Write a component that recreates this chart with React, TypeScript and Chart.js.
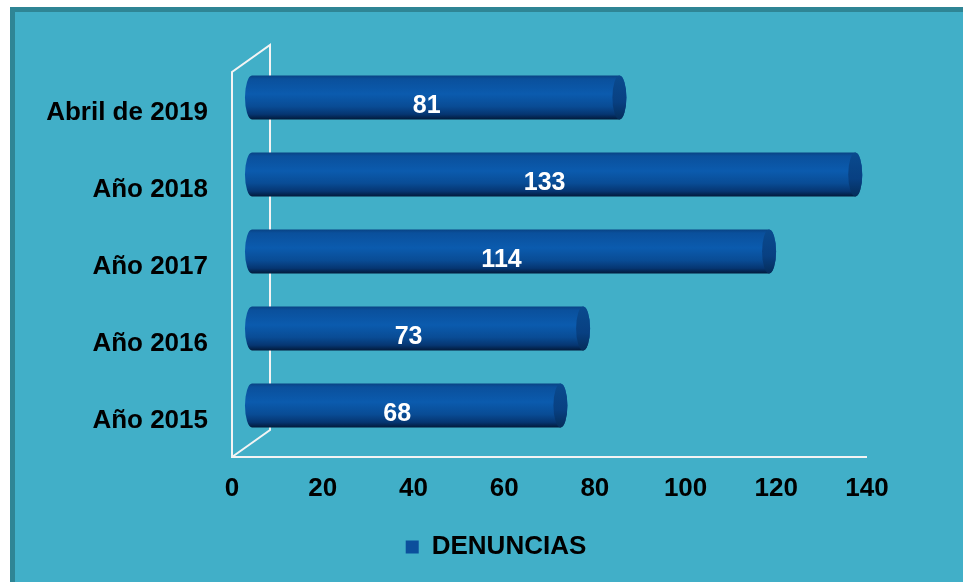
import { useEffect, useRef } from "react";
import { Chart, registerables } from "chart.js";

Chart.register(...registerables);

const categories = ["Abril de 2019", "Año 2018", "Año 2017", "Año 2016", "Año 2015"];
const denuncias = [81, 133, 114, 73, 68];
const seriesLabel = "DENUNCIAS";
const xMin = 0;
const xMax = 140;
const xStep = 20;

const FONT = "'Liberation Sans', Arial, Helvetica, sans-serif";
const DEPTH_X = 38;
const DEPTH_Y = 27;
const BAR_DX = 20;
const BAR_DY = -13;

const scenePlugin = {
  id: "scene3d",
  afterLayout(chart: any) {
    // let the category labels extend left of the (narrow) y-axis box without clipping
    if (chart.scales.y) chart.scales.y.left = 15;
  },
  beforeDraw(chart: any) {
    const { ctx, width, height } = chart;
    ctx.save();
    ctx.fillStyle = "#ffffff";
    ctx.fillRect(0, 0, width, height);
    ctx.fillStyle = "#2F8595";
    ctx.fillRect(10, 7, width - 10, height - 7);
    ctx.fillStyle = "#41AFC8";
    ctx.fillRect(15, 12, width - 15, height - 12);
    ctx.restore();
  },
  beforeDatasetsDraw(chart: any) {
    const { ctx, chartArea } = chart;
    const { left, right, top, bottom } = chartArea;
    ctx.save();
    ctx.strokeStyle = "#F4F4F4";
    ctx.lineWidth = 2;
    ctx.lineJoin = "miter";
    ctx.beginPath();
    ctx.moveTo(right, bottom);
    ctx.lineTo(left, bottom);
    ctx.lineTo(left, top);
    ctx.lineTo(left + DEPTH_X, top - DEPTH_Y);
    ctx.lineTo(left + DEPTH_X, bottom - DEPTH_Y);
    ctx.lineTo(left, bottom);
    ctx.stroke();

    const meta = chart.getDatasetMeta(0);
    meta.data.forEach((bar: any) => {
      const p = bar.getProps(["x", "y", "base", "height"], true);
      const x0 = p.base + BAR_DX;
      const x1 = p.x + BAR_DX;
      const yc = p.y + BAR_DY;
      const r = p.height / 2;
      const rx = 7;
      const t = yc - r;
      const b = yc + r;
      const g = ctx.createLinearGradient(0, t, 0, b);
      g.addColorStop(0, "#094384");
      g.addColorStop(0.08, "#0A509C");
      g.addColorStop(0.42, "#0B5BAE");
      g.addColorStop(0.7, "#094C95");
      g.addColorStop(0.88, "#063672");
      g.addColorStop(1, "#021A3A");
      ctx.beginPath();
      ctx.moveTo(x1, t);
      ctx.ellipse(x1, yc, rx, r, 0, -Math.PI / 2, Math.PI / 2);
      ctx.lineTo(x0, b);
      ctx.ellipse(x0, yc, rx, r, 0, Math.PI / 2, Math.PI * 1.5);
      ctx.closePath();
      ctx.fillStyle = g;
      ctx.fill();

      const cg = ctx.createLinearGradient(0, t, 0, b);
      cg.addColorStop(0, "#0A4A8E");
      cg.addColorStop(0.6, "#084082");
      cg.addColorStop(1, "#052D5A");
      ctx.beginPath();
      ctx.ellipse(x1, yc, rx, r, 0, 0, Math.PI * 2);
      ctx.fillStyle = cg;
      ctx.fill();
    });
    ctx.restore();
  },
  afterDatasetsDraw(chart: any) {
    const { ctx } = chart;
    const meta = chart.getDatasetMeta(0);
    const values = chart.data.datasets[0].data;
    ctx.save();
    ctx.fillStyle = "#ffffff";
    ctx.font = `bold 25px ${FONT}`;
    ctx.textAlign = "center";
    ctx.textBaseline = "middle";
    meta.data.forEach((bar: any, i: number) => {
      const p = bar.getProps(["x", "y", "base"], true);
      ctx.fillText(String(values[i]), (p.base + p.x) / 2 + 11, p.y - 4);
    });
    ctx.restore();
  },
};

export default function App() {
  const canvasRef = useRef<HTMLCanvasElement | null>(null);

  useEffect(() => {
    if (!canvasRef.current) return;
    const chart = new Chart(canvasRef.current, {
      type: "bar",
      data: {
        labels: categories,
        datasets: [
          {
            label: seriesLabel,
            data: denuncias,
            backgroundColor: "rgba(0,0,0,0)",
            borderWidth: 0,
            barThickness: 44,
          },
        ],
      },
      options: {
        indexAxis: "y",
        animation: false,
        responsive: true,
        maintainAspectRatio: false,
        layout: { padding: { left: 125, right: 96, top: 72, bottom: 12 } },
        plugins: {
          tooltip: { enabled: false },
          legend: {
            position: "bottom",
            labels: {
              color: "#000",
              font: { family: FONT, size: 26, weight: "bold" },
              boxWidth: 13,
              boxHeight: 13,
              padding: 10,
              generateLabels: (chart: any) =>
                chart.data.datasets.map((ds: any, i: number) => ({
                  text: ds.label,
                  fillStyle: "#0B4F9C",
                  strokeStyle: "#0B4F9C",
                  lineWidth: 0,
                  hidden: false,
                  datasetIndex: i,
                  fontColor: "#000",
                })),
            },
          },
        },
        scales: {
          x: {
            min: xMin,
            max: xMax,
            grid: { display: false, drawTicks: false },
            border: { display: false },
            ticks: {
              stepSize: xStep,
              color: "#000",
              padding: 16,
              font: { family: FONT, size: 26, weight: "bold" },
            },
            afterFit: (scale: any) => {
              scale.height = 67;
            },
          },
          y: {
            grid: { display: false, drawTicks: false },
            border: { display: false },
            ticks: {
              color: "#000",
              padding: 24,
              labelOffset: 2,
              font: { family: FONT, size: 26, weight: "bold" },
            },
            afterFit: (scale: any) => {
              scale.width = 107;
            },
          },
        },
      },
      plugins: [scenePlugin],
    });
    return () => chart.destroy();
  }, []);

  return (
    <div style={{ position: "fixed", left: 0, top: 0, width: 963, height: 582 }}>
      <canvas ref={canvasRef} />
    </div>
  );
}
